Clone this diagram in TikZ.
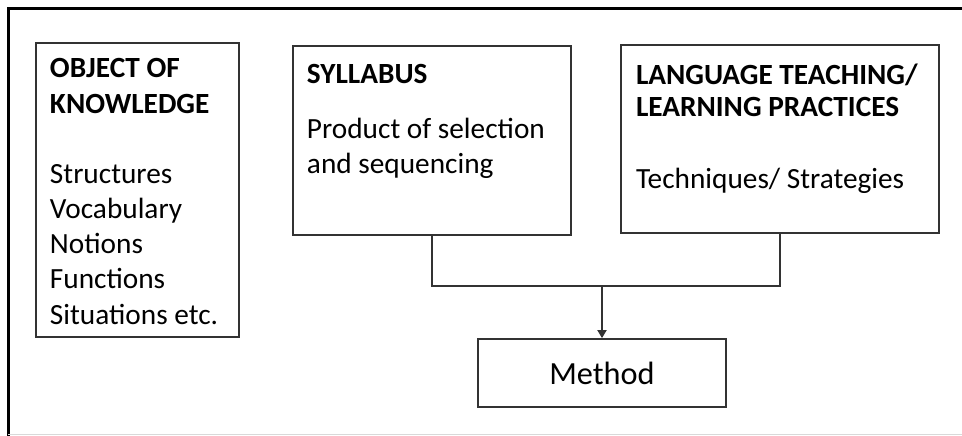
\documentclass[tikz,border=0pt]{standalone}
\usepackage{fontspec}
\setmainfont{Carlito}
\usetikzlibrary{arrows.meta}
\usetikzlibrary{positioning}

\begin{document}
\begin{tikzpicture}[
		x=1pt, y=-1pt,
		line width=0.7mm,
		box/.style={draw=black!80, line width=1.8pt, inner sep=0pt},
		head/.style={anchor=north west, inner sep=0pt, align=left, font=\fontsize{29.3}{36}\selectfont\bfseries},
		body/.style={anchor=north west, inner sep=0pt, align=left, font=\fontsize{29.3}{35.3}\selectfont},
		arrow/.style={draw=black!80, line width=1.8pt, -{Triangle[width=9pt,length=8pt]}},
	]
	\useasboundingbox (0,0) rectangle (962,436);
	% frame
	\draw[line width=3pt, black] (962,9) -- (8,9) -- (8,436);
	\draw[line width=1pt, black!15] (8,434.5) -- (962,434.5);

	\node (knowledge) [box, minimum width=203pt, minimum height=294pt] at (137.5,190) {};
	\node (syllabus) [box, minimum width=278pt, minimum height=189pt] at (432,140.5) {};
	\node (practices) [box, minimum width=318pt, minimum height=188pt] at (780,139) {};
	\node (method) [box, minimum width=248pt, minimum height=68pt, font=\fontsize{32.3}{36}\selectfont] at (602,373) {Method};

	\node (knowledgehead) [head] at (49,57) {OBJECT OF\\KNOWLEDGE};
	\node (knowledgebody) [body] at (49,163) {Structures\\Vocabulary\\Notions\\Functions\\Situations etc.};
	\node (syllabushead) [head] at (306,63) {SYLLABUS};
	\node (syllabusbody) [body, font=\fontsize{29.3}{35}\selectfont] at (306,117) {Product of selection\\and sequencing};
	\node (practiceshead) [head, font=\fontsize{29.3}{32.3}\selectfont\bfseries] at (635,63) {LANGUAGE TEACHING/\\LEARNING PRACTICES};
	\node (practicesbody) [body] at (635,167) {Techniques/ Strategies};

	\coordinate (merge) at (602,286);
	\draw[draw=black!80, line width=1.8pt] (syllabus.south) -- (syllabus.south |- merge) -- (practices.south |- merge) -- (practices.south);
	\draw[arrow] (merge) -- (method.north);
\end{tikzpicture}
\end{document}
